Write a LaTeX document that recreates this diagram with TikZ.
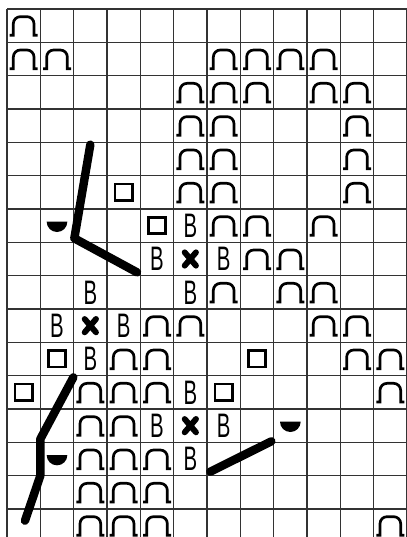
\documentclass[tikz,border=0pt]{standalone}
\usepackage{fontspec}
\newfontfamily\bfnt{Liberation Sans}
\tikzset{
  gridline/.style={line width=0.9pt, draw=black!80},
  heavy/.style={line width=7.2pt, line cap=round, line join=round},
  bnode/.style={inner sep=0pt, font=\bfnt\fontsize{29}{29}\selectfont},
  pics/knarch/.style={code={
    \draw[line width=2.3pt] (-0.42,-0.29) -- (-0.31,-0.29) -- (-0.31,0.06)
      arc[start angle=180,end angle=90,radius=0.21] -- (0.10,0.27)
      arc[start angle=90,end angle=0,radius=0.21] -- (0.31,-0.29) -- (0.42,-0.29);}},
  pics/knsq/.style={code={
    \draw[line width=2.3pt] (-0.26,-0.24) rectangle (0.26,0.25);}},
  pics/knx/.style={code={
    \draw[line width=5pt, line cap=round] (-0.17,-0.2) -- (0.17,0.2) (-0.17,0.2) -- (0.17,-0.2);}},
  pics/knbob/.style={code={
    \fill (-0.31,0.12) arc[start angle=180,end angle=360,radius=0.31] -- cycle;}}
}
\begin{document}
\begin{tikzpicture}
\useasboundingbox (-0.21,0.27) rectangle (11.97,-15.84);
\fill[white] (-0.21,0.27) rectangle (11.97,-15.84);
\draw[gridline] (0,-16) grid (12,0);
% arches
\foreach \c/\r in {1/1,
  1/2,2/2,7/2,8/2,9/2,10/2,
  6/3,7/3,8/3,10/3,11/3,
  6/4,7/4,11/4,
  6/5,7/5,11/5,
  6/6,7/6,11/6,
  7/7,8/7,10/7,
  8/8,9/8,
  7/9,9/9,10/9,
  5/10,6/10,10/10,11/10,
  4/11,5/11,11/11,12/11,
  3/12,4/12,5/12,12/12,
  3/13,4/13,
  3/14,4/14,5/14,
  3/15,4/15,5/15,
  3/16,4/16,5/16,12/16}
  \pic at (\c-0.5,0.5-\r) {knarch};
% squares
\foreach \c/\r in {4/6,5/7,2/11,8/11,1/12,7/12}
  \pic at (\c-0.5,0.5-\r) {knsq};
% B letters
\foreach \c/\r [count=\i] in {6/7,5/8,7/8,3/9,6/9,2/10,4/10,3/11,6/12,5/13,7/13,6/14}
  \node[bnode] (b\i) at (\c-0.5,0.5-\r) {\scalebox{0.6}[1]{B}};
% crosses
\foreach \c/\r in {6/8,3/10,6/13}
  \pic at (\c-0.5,0.5-\r) {knx};
% bobbles
\foreach \c/\r in {2/7,9/13,2/14}
  \pic at (\c-0.5,0.5-\r) {knbob};
% heavy lines
\coordinate (l1a) at (2.5,-4.07);
\coordinate (l1b) at (2.02,-6.88);
\coordinate (l1c) at (3.9,-7.9);
\draw[heavy] (l1a) -- (l1b) -- (l1c);
\coordinate (l2a) at (1.99,-11.05);
\coordinate (l2b) at (1,-12.9);
\coordinate (l2c) at (1,-14);
\coordinate (l2d) at (0.54,-15.35);
\draw[heavy] (l2a) -- (l2b) -- (l2c) -- (l2d);
\coordinate (l3a) at (6.1,-13.88);
\coordinate (l3b) at (7.93,-12.97);
\draw[heavy] (l3a) -- (l3b);
\end{tikzpicture}
\end{document}
